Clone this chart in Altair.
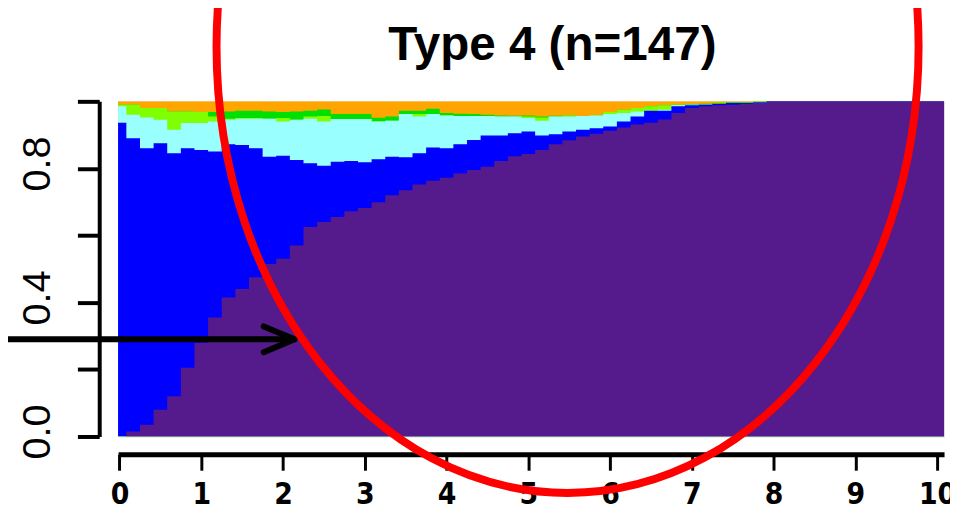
import altair as alt
import pandas as pd

# sample times (years), every two months 0 .. 10
times = [k / 6 for k in range(61)]

# cumulative upper boundaries of each state, bottom to top
purple_top = [0.0, 0.015, 0.035, 0.08, 0.12, 0.205, 0.28, 0.355, 0.415, 0.44,
              0.475, 0.515, 0.53, 0.57, 0.625, 0.64, 0.655, 0.672, 0.682, 0.699,
              0.72, 0.735, 0.752, 0.763, 0.772, 0.785, 0.795, 0.805, 0.822, 0.836,
              0.843, 0.855, 0.872, 0.884, 0.895, 0.903, 0.912, 0.922, 0.931, 0.936,
              0.946, 0.965, 0.98, 0.985, 0.988, 0.99, 0.993, 0.995] + [1.0] * 13
blue_top = [0.936, 0.89, 0.86, 0.875, 0.845, 0.86, 0.855, 0.85, 0.872, 0.87,
            0.86, 0.835, 0.838, 0.825, 0.815, 0.808, 0.82, 0.822, 0.818, 0.827,
            0.835, 0.833, 0.845, 0.862, 0.86, 0.872, 0.885, 0.898, 0.898, 0.905,
            0.91, 0.898, 0.902, 0.91, 0.915, 0.92, 0.925, 0.94, 0.955, 0.972,
            0.972, 0.985, 0.988, 0.99, 0.992, 0.995, 0.995, 0.997] + [1.0] * 13
cyan_top = [0.985, 0.96, 0.952, 0.945, 0.915, 0.935, 0.935, 0.94, 0.945, 0.948,
            0.948, 0.948, 0.94, 0.945, 0.948, 0.94, 0.947, 0.947, 0.947, 0.94,
            0.942, 0.962, 0.955, 0.962, 0.958, 0.956, 0.956, 0.956, 0.955, 0.955,
            0.95, 0.942, 0.955, 0.955, 0.956, 0.958, 0.962, 0.965, 0.97, 0.972,
            0.975, 0.988, 0.99, 0.99, 0.992, 0.995, 0.995, 0.997] + [1.0] * 13
chartreuse_top = [0.99, 0.99, 0.98, 0.98, 0.97, 0.97, 0.968, 0.955, 0.948, 0.95,
                  0.95, 0.948, 0.95, 0.945, 0.955, 0.956, 0.947, 0.947, 0.947, 0.94,
                  0.942, 0.962, 0.962, 0.962, 0.958, 0.956, 0.956, 0.956, 0.955, 0.955,
                  0.955, 0.952, 0.955, 0.958, 0.956, 0.958, 0.968, 0.975, 0.98, 0.985,
                  0.988, 0.99, 0.99, 0.99, 0.992, 0.995, 0.995, 1.0] + [1.0] * 13
green_top = [0.99, 0.99, 0.98, 0.98, 0.97, 0.97, 0.968, 0.968, 0.97, 0.972,
             0.972, 0.97, 0.968, 0.97, 0.972, 0.976, 0.962, 0.962, 0.962, 0.951,
             0.955, 0.972, 0.972, 0.978, 0.965, 0.963, 0.962, 0.96, 0.958, 0.957,
             0.958, 0.955, 0.957, 0.958, 0.956, 0.958, 0.968, 0.975, 0.98, 0.985,
             0.988, 0.99, 0.992, 0.993, 0.995, 0.997, 0.997, 1.0] + [1.0] * 13
orange_top = [1.0] * 61

states = ["State 1", "State 2", "State 3", "State 4", "State 5", "State 6"]
colors = ["#551A8B", "#0000FF", "#99FFFF", "#7FFF00", "#00E000", "#FFA500"]
tops = [purple_top, blue_top, cyan_top, chartreuse_top, green_top, orange_top]

x_ticks = list(range(11))
y_ticks = [0.0, 0.2, 0.4, 0.6, 0.8, 1.0]
title_text = "Type 4 (n=147)"

# annotation anchors (data units)
ellipse_center = {"t": 5.48, "v": 1.163}
arrow = {"t0": -1.6, "t1": 2.14, "v": 0.29}

# bins: step-after from left edge of each two-month bin
half = 1 / 12
x_domain = [-0.018, 10.085]
edges = [t - half for t in times] + [x_domain[1]]

rows = []
for name, top in zip(states, tops):
    for j, e in enumerate(edges):
        k = min(j, len(times) - 1)
        rows.append({"state": name, "t": e, "hi": top[k], "base": 0.0})
df = pd.DataFrame(rows)

xs = alt.Scale(domain=x_domain, nice=False, zero=False)
ys = alt.Scale(domain=[0, 1], nice=False, zero=False)

xaxis = alt.Axis(values=x_ticks, format="d", offset=18, tickSize=16, tickWidth=3,
                 domainWidth=5, domainColor="black", tickColor="black",
                 labelColor="black", labelFontSize=30, labelFontWeight="bold",
                 labelFont="Liberation Sans Narrow, DejaVu Sans Condensed, Liberation Sans",
                 labelPadding=10, labelFlush=False, labelOverlap=False, grid=False, title=None)
yaxis = alt.Axis(values=y_ticks,
                 labelExpr="(abs(datum.value)<1e-6 || abs(datum.value-0.4)<1e-6 || abs(datum.value-0.8)<1e-6) ? format(datum.value, '.1f') : ''",
                 offset=19, tickSize=22, tickWidth=4, domainWidth=4, domainColor="black",
                 tickColor="black", labelColor="black", labelFontSize=40,
                 labelFont="Liberation Sans", labelAngle=270, labelAlign="center",
                 labelBaseline="alphabetic", labelPadding=28, labelOffset=-5,
                 labelOverlap=False, grid=False, title=None)

layers = []
for name, col in reversed(list(zip(states, colors))):
    layers.append(
        alt.Chart(df[df.state == name]).mark_area(
            interpolate="step-after", clip=True, color=col, opacity=1
        ).encode(
            x=alt.X("t:Q", scale=xs, axis=xaxis),
            y=alt.Y("hi:Q", scale=ys, axis=yaxis),
            y2="base:Q",
        )
    )

k = 0.5523
rx = 354 / 450
kx = k * rx
ellipse_path = (f"M 0 -1 C {kx:.4f} -1 {rx:.4f} -{k} {rx:.4f} 0 "
                f"C {rx:.4f} {k} {kx:.4f} 1 0 1 "
                f"C -{kx:.4f} 1 -{rx:.4f} {k} -{rx:.4f} 0 "
                f"C -{rx:.4f} -{k} -{kx:.4f} -1 0 -1 Z")

ell = alt.Chart(pd.DataFrame([ellipse_center])).mark_point(
    shape=ellipse_path, size=810000, filled=False, stroke="#FF0000",
    strokeWidth=8, opacity=1
).encode(x=alt.X("t:Q", scale=xs, axis=xaxis), y=alt.Y("v:Q", scale=ys, axis=yaxis))

arrow_df = pd.DataFrame([arrow])
shaft = alt.Chart(arrow_df).mark_rule(color="black", strokeWidth=6, strokeCap="round").encode(
    x=alt.X("t0:Q", scale=xs, axis=xaxis), x2="t1:Q",
    y=alt.Y("v:Q", scale=ys, axis=yaxis))
head = alt.Chart(arrow_df).mark_point(
    shape="M -1 -0.42 L 0 0 L -1 0.42", size=3844, filled=False, stroke="black",
    strokeWidth=6, strokeCap="round", strokeJoin="round", opacity=1
).encode(x=alt.X("t1:Q", scale=xs, axis=xaxis), y=alt.Y("v:Q", scale=ys, axis=yaxis))

title = alt.Chart(pd.DataFrame({"label": [title_text]})).mark_text(
    font="Liberation Sans", fontSize=48, fontWeight="bold", color="black",
    align="center", baseline="alphabetic"
).encode(text="label:N", x=alt.value(438), y=alt.value(-42))

chart = alt.layer(*layers, shaft, head, ell, title).properties(
    width=833, height=338,
    autosize=alt.AutoSizeParams(type="none"),
    padding={"left": 111, "top": 92, "right": 6, "bottom": 72},
).configure_view(stroke=None).configure(background="white")

chart.save("out.html", embed_options={"renderer": "svg", "actions": False})
